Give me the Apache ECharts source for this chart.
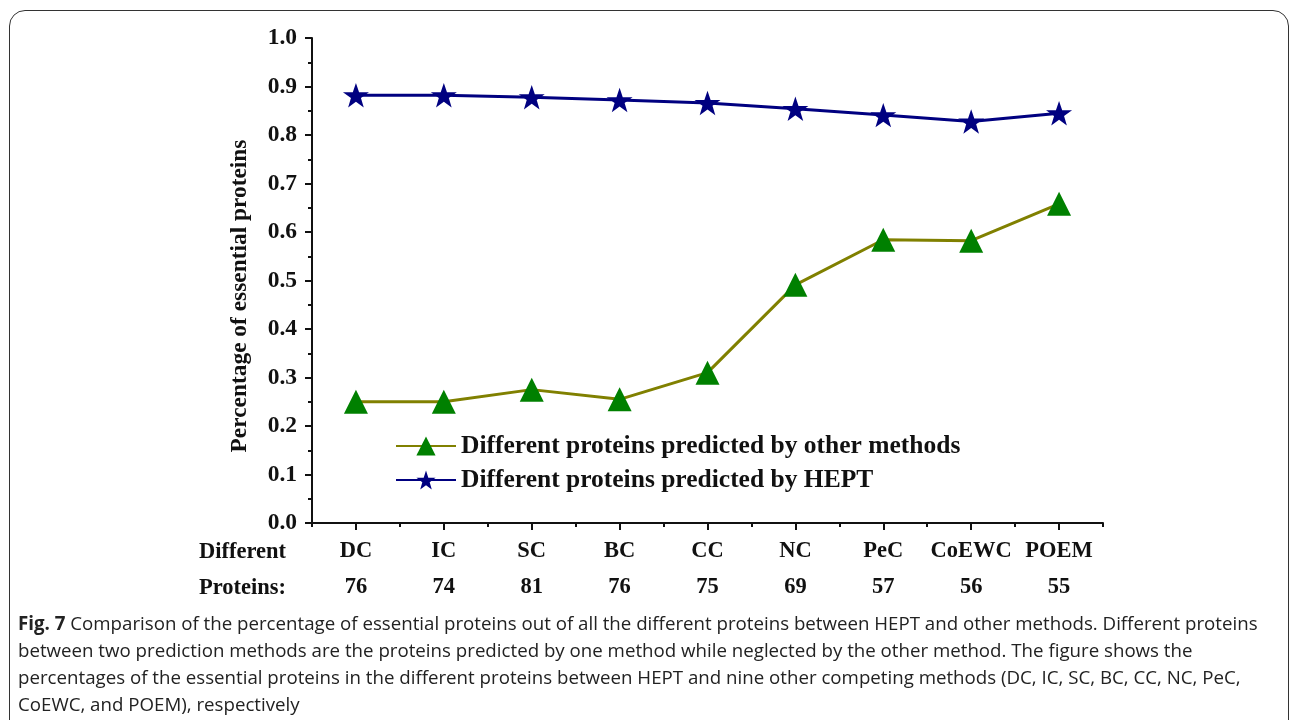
<!DOCTYPE html>
<html>
<head>
<meta charset="utf-8">
<script src="https://cdn.jsdelivr.net/npm/echarts@6/dist/echarts.min.js"></script>
<style>
  html,body{margin:0;padding:0;background:#fff;overflow:hidden;}
  .wrap{position:relative;width:1292px;height:720px;overflow:hidden;}
  .frame{position:absolute;left:9px;top:10px;width:1280px;height:760px;border:1.5px solid #333;border-radius:16px;box-sizing:border-box;}
  #main{position:absolute;left:0;top:0;width:1292px;height:610px;}
  .caption{position:absolute;left:18px;top:609px;width:1270px;font-family:"Open Sans",sans-serif;font-size:18.7px;line-height:27px;color:#222;white-space:nowrap;}
</style>
</head>
<body>
<div class="wrap">
  <div class="frame"></div>
  <div id="main"></div>
  <div class="caption"><b>Fig. 7</b> Comparison of the percentage of essential proteins out of all the different proteins between HEPT and other methods. Different proteins<br>between two prediction methods are the proteins predicted by one method while neglected by the other method. The figure shows the<br>percentages of the essential proteins in the different proteins between HEPT and nine other competing methods (DC, IC, SC, BC, CC, NC, PeC,<br>CoEWC, and POEM), respectively</div>
</div>
<script>
  // 方法名称与不同蛋白数量
  var methods = ['DC', 'IC', 'SC', 'BC', 'CC', 'NC', 'PeC', 'CoEWC', 'POEM'];
  var diffCounts = [76, 74, 81, 76, 75, 69, 57, 56, 55];
  // 两条折线
  var otherMethods = [0.250, 0.250, 0.275, 0.255, 0.310, 0.491, 0.584, 0.582, 0.658];
  var heptValues = [0.882, 0.882, 0.878, 0.872, 0.866, 0.854, 0.841, 0.828, 0.845];
  var seriesNames = ['Different proteins predicted by other methods', 'Different proteins predicted by HEPT'];

  var starPath = 'path://M50,0 L61.8,35.1 L98.9,35.1 L68.8,56.7 L79.4,91.9 L50,70.5 L20.6,91.9 L31.2,56.7 L1.1,35.1 L38.2,35.1 Z';
  var serif = '"Liberation Serif","Times New Roman",serif';

  var lineChart = echarts.init(document.getElementById('main'));
  var option = {
    animation: false,
    grid: {left: 312, right: 189, top: 38, bottom: 87},
    legend: {
      orient: 'vertical',
      left: 390,
      top: 428,
      itemWidth: 60,
      itemHeight: 24,
      itemGap: 8,
      data: seriesNames,
      textStyle: {fontFamily: serif, fontWeight: 'bold', fontSize: 25.5, color: '#111'}
    },
    xAxis: [
      {
        type: 'category',
        data: methods,
        axisLine: {lineStyle: {color: '#111', width: 2}},
        axisTick: {show: true, inside: false, alignWithLabel: true, length: 7, lineStyle: {color: '#111', width: 2}},
        axisLabel: {
          margin: 10,
          interval: 0,
          formatter: function (v, i) { return '{a|' + v + '}\n{b|' + diffCounts[i] + '}'; },
          rich: {
            a: {fontFamily: serif, fontWeight: 'bold', fontSize: 22.5, color: '#111', lineHeight: 36},
            b: {fontFamily: serif, fontWeight: 'bold', fontSize: 22.5, color: '#111', lineHeight: 36}
          }
        }
      },
      {
        // 类目边界处的短刻度
        type: 'category',
        data: methods,
        position: 'bottom',
        axisLine: {show: false},
        axisTick: {show: true, inside: false, length: 4, lineStyle: {color: '#111', width: 2}},
        axisLabel: {show: false}
      }
    ],
    yAxis: {
      type: 'value',
      min: 0,
      max: 1,
      interval: 0.1,
      axisLine: {show: true, lineStyle: {color: '#111', width: 2}},
      axisTick: {show: true, inside: false, length: 7, lineStyle: {color: '#111', width: 2}},
      minorTick: {show: true, splitNumber: 2, length: 4, lineStyle: {color: '#111', width: 2}},
      splitLine: {show: false},
      axisLabel: {
        margin: 15,
        fontFamily: serif, fontWeight: 'bold', fontSize: 23.5, color: '#111',
        formatter: function (v) { return v.toFixed(1); }
      }
    },
    graphic: [
      {
        type: 'text',
        x: 240, y: 296,
        rotation: Math.PI / 2,
        style: {
          text: 'Percentage of essential proteins',
          fontFamily: serif, fontWeight: 'bold', fontSize: 23.4, fill: '#111',
          textAlign: 'center', textVerticalAlign: 'middle'
        }
      },
      {
        type: 'text',
        left: 199, top: 534,
        style: {
          text: 'Different\nProteins:',
          fontFamily: serif, fontWeight: 'bold', fontSize: 22.5, fill: '#111',
          lineHeight: 36
        }
      }
    ],
    series: [
      {
        name: seriesNames[0],
        type: 'line',
        data: otherMethods,
        symbol: 'triangle',
        symbolSize: 24,
        lineStyle: {color: '#808000', width: 3},
        itemStyle: {color: '#008000'},
        z: 3
      },
      {
        name: seriesNames[1],
        type: 'line',
        data: heptValues,
        symbol: starPath,
        symbolSize: 26,
        symbolKeepAspect: true,
        lineStyle: {color: '#000080', width: 3},
        itemStyle: {color: '#000080'},
        z: 3
      }
    ]
  };
  option && lineChart.setOption(option);
</script>
</body>
</html>
